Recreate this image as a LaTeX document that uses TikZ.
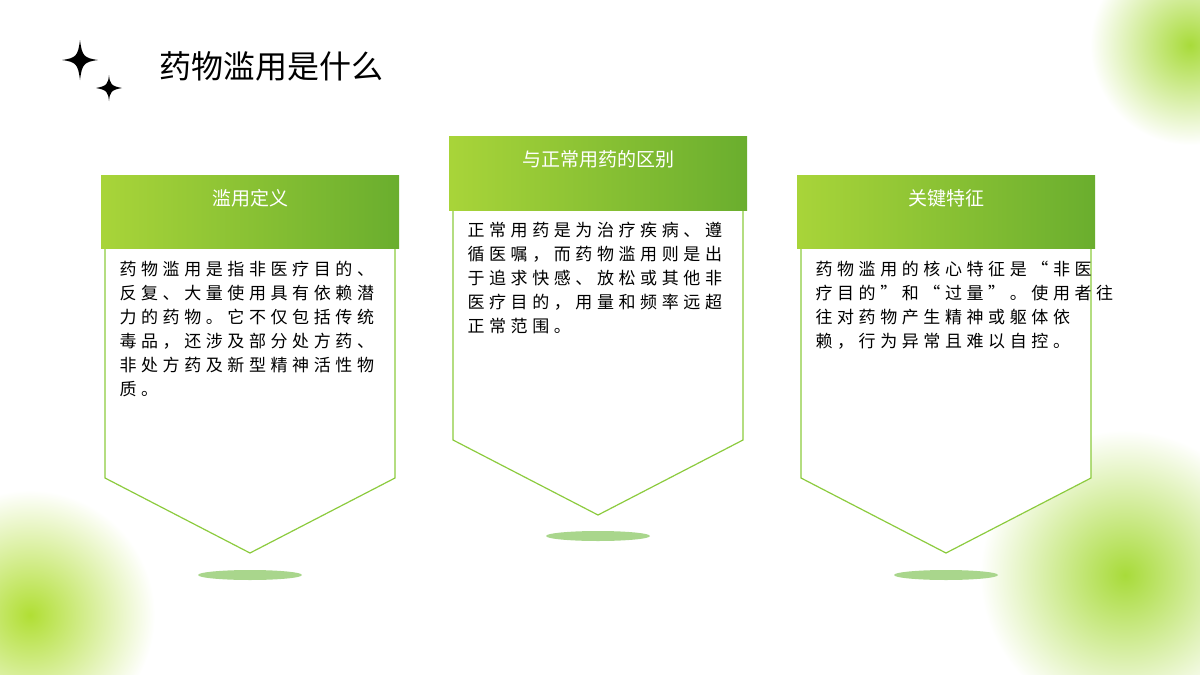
\documentclass[tikz,border=0pt]{standalone}
\usepackage{fontspec}
\newfontfamily\cjk{Noto Sans CJK SC}
\newfontfamily\cjksp[LetterSpace=27]{Noto Sans CJK SC}
\usetikzlibrary{shapes.geometric}
\definecolor{gA}{HTML}{B8DE3C}
\definecolor{gB}{HTML}{6AAE2E}
\definecolor{blob}{HTML}{A8DB3A}
\definecolor{lineg}{HTML}{8CCB3E}
\definecolor{shad}{HTML}{A9D68C}
\tikzset{
 hdr/.style={left color=gA!80!gB,right color=gB},
 body/.style={draw=lineg,line width=1.2pt,fill=white},
 htxt/.style={text=white,font=\cjk\fontsize{19}{22}\selectfont},
 btxt/.style={anchor=north west,align=left,font=\cjksp\fontsize{17}{24}\selectfont,text=black},
}
\begin{document}
\begin{tikzpicture}[x=1pt,y=-1pt]
\useasboundingbox (0,0) rectangle (1200,675);
\begin{scope}
\clip (0,0) rectangle (1200,675);
\shade[inner color=blob,outer color=white] (1190,45) circle (100);
\shade[inner color=blob!90!yellow,outer color=white] (30,615) circle (125);
\shade[inner color=blob,outer color=white] (1125,575) circle (145);
\end{scope}
% stars
\fill (80,40) .. controls (82,56) and (84,58) .. (98,60) .. controls (84,62) and (82,64) .. (80,80) .. controls (78,64) and (76,62) .. (62,60) .. controls (76,58) and (78,56) .. (80,40) -- cycle;
\fill (109,75) .. controls (110,84) and (111,86) .. (122,88) .. controls (111,90) and (110,92) .. (109,101) .. controls (108,92) and (107,90) .. (96,88) .. controls (107,86) and (108,84) .. (109,75) -- cycle;
\node[anchor=west,font=\cjk\fontsize{32}{36}\selectfont] (title) at (156,66) {药物滥用是什么};
% card 1
\fill[shad] (250,575) ellipse (52 and 5);
\draw[body] (105,248) -- (105,478) -- (250,553) -- (395,478) -- (395,248);
\shade[hdr] (101,175) rectangle (399,248);
\node[htxt] (h1) at (250,198) {滥用定义};
\node[btxt] (t1) at (116,258) {药物滥用是指非医疗目的、\\反复、大量使用具有依赖潜\\力的药物。它不仅包括传统\\毒品，还涉及部分处方药、\\非处方药及新型精神活性物\\质。};
% card 2
\fill[shad] (598,536) ellipse (52 and 5);
\draw[body] (453,210) -- (453,440) -- (598,515) -- (743,440) -- (743,210);
\shade[hdr] (449,136) rectangle (747,210);
\node[htxt] (h2) at (598,159) {与正常用药的区别};
\node[btxt] (t2) at (464,219) {正常用药是为治疗疾病、遵\\循医嘱，而药物滥用则是出\\于追求快感、放松或其他非\\医疗目的，用量和频率远超\\正常范围。};
% card 3
\fill[shad] (946,575) ellipse (52 and 5);
\draw[body] (801,248) -- (801,478) -- (946,553) -- (1091,478) -- (1091,248);
\shade[hdr] (797,175) rectangle (1095,248);
\node[htxt] (h3) at (946,198) {关键特征};
\node[btxt] (t3) at (812,258) {药物滥用的核心特征是“非医\\疗目的”和“过量”。使用者往\\往对药物产生精神或躯体依\\赖，行为异常且难以自控。};
\end{tikzpicture}
\end{document}
